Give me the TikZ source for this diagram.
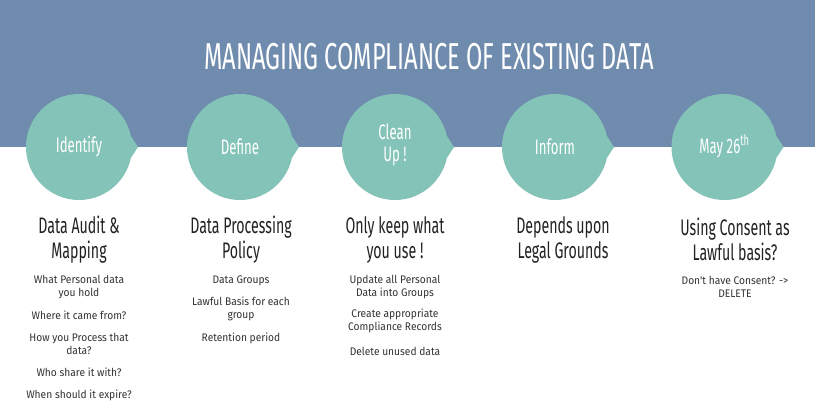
\documentclass[tikz,border=0pt]{standalone}
\usepackage{fontspec}
\setmainfont{Fira Sans}
\newfontfamily\condfont[FakeStretch=0.63]{Fira Sans}
\newfontfamily\smallfont[FakeStretch=0.93]{Fira Sans}
\definecolor{banner}{HTML}{6F8BAD}
\definecolor{bubble}{HTML}{84C3B8}
\definecolor{headtxt}{HTML}{222222}
\definecolor{itemtxt}{HTML}{333333}
\tikzset{
  titletxt/.style={text=white, font=\condfont\fontsize{37.5}{40}\selectfont, inner sep=0pt},
  circtxt/.style={text=white, align=center, font=\condfont\fontsize{21}{22}\selectfont, inner sep=0pt},
  headline/.style={text=headtxt, align=center, font=\condfont\fontsize{22.5}{25}\selectfont, inner sep=0pt},
  itemline/.style={text=itemtxt, align=center, font=\smallfont\fontsize{11}{13}\selectfont, inner sep=0pt},
}
\newcommand{\bubbleat}[2]{%
  \fill[bubble] (#1,#2) circle[radius=53pt];
  \fill[bubble] ([shift={(-12:53pt)}]#1,#2) -- ([shift={(0:59pt)}]#1,#2) -- ([shift={(12:53pt)}]#1,#2) -- cycle;
}
\begin{document}
\begin{tikzpicture}[x=1pt,y=-1pt]
\useasboundingbox (0,0) rectangle (815,410);
\fill[white] (0,0) rectangle (815,410);
\fill[banner] (0,0) rectangle (815,147);
\node[titletxt] (title) at (429,56.5) {MANAGING COMPLIANCE OF EXISTING DATA};
% bubbles
\bubbleat{79}{147}
\bubbleat{240}{147}
\bubbleat{395}{147}
\bubbleat{555}{147}
\bubbleat{724.5}{147}
\node[circtxt] (c1) at (79,147) {Identify};
\node[circtxt] (c2) at (240,147) {Define};
\node[circtxt] (c3) at (395,144.5) {Clean\\Up !};
\node[circtxt] (c4) at (555,147) {Inform};
\node[circtxt] (c5) at (724.5,146) {May 26\textsuperscript{th}};
% headings
\node[headline] (h1) at (79,239.5) {Data Audit \&\\Mapping};
\node[headline] (h2) at (241,239.5) {Data Processing\\Policy};
\node[headline] (h3) at (395,239.5) {Only keep what\\you use !};
\node[headline] (h4) at (563,239.5) {Depends upon\\Legal Grounds};
\node[headline] (h5) at (735,239.5) {Using Consent as\\Lawful basis?};
% column 1
\node[itemline] (i11) at (79,287) {What Personal data\\you hold};
\node[itemline] (i12) at (79,315) {Where it came from?};
\node[itemline] (i13) at (79,344) {How you Process that\\data?};
\node[itemline] (i14) at (79,372) {Who share it with?};
\node[itemline] (i15) at (79,395) {When should it expire?};
% column 2
\node[itemline] (i21) at (241,281) {Data Groups};
\node[itemline] (i22) at (241,309) {Lawful Basis for each\\group};
\node[itemline] (i23) at (241,338) {Retention period};
% column 3
\node[itemline] (i31) at (395,287) {Update all Personal\\Data into Groups};
\node[itemline] (i32) at (395,321) {Create appropriate\\Compliance Records};
\node[itemline] (i33) at (395,351) {Delete unused data};
% column 5
\node[itemline] (i51) at (735,287) {Don't have Consent? ->\\DELETE};
\end{tikzpicture}
\end{document}
